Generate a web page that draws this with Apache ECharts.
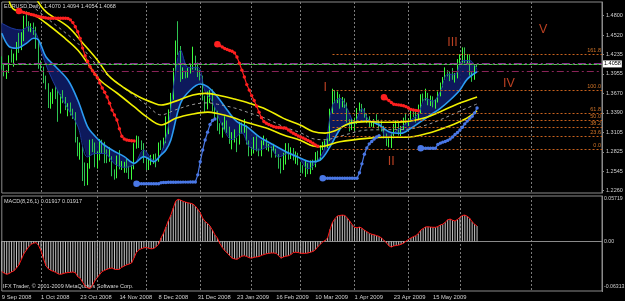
<!DOCTYPE html>
<html><head><meta charset="utf-8">
<script src="https://cdn.jsdelivr.net/npm/echarts@6/dist/echarts.min.js"></script>
<style>html,body{margin:0;padding:0;background:#000;}#c{width:625px;height:301px;}</style>
</head><body><div id="c"></div>
<script>
// ---------- tick labels ----------
const tickLabels = ['9 Sep 2008','1 Oct 2008','23 Oct 2008','14 Nov 2008','8 Dec 2008','31 Dec 2008','23 Jan 2009','16 Feb 2009','10 Mar 2009','1 Apr 2009','23 Apr 2009','15 May 2009','8 Jun 2009'];
const priceTicks = [1.4800,1.4520,1.4235,1.3955,1.3670,1.3390,1.3105,1.2825,1.2545,1.2260];
const macdTicks = [0.05719, 0.00, -0.06313];
const holidays = ['2008-12-25','2009-01-01'];
const futureGridIdx = [216];

// ---------- EURUSD daily OHLC ----------
const opens = [
1.4180,1.4037,1.3955,1.3990,1.4210,1.4180,1.4180,1.4390,1.4380,1.4480,
1.4780,1.4650,1.4620,1.4640,1.4610,1.4380,1.4090,1.4020,1.3850,1.3790,
1.3500,1.3600,1.3650,1.3640,1.3420,1.3620,1.3560,1.3450,1.3460,1.3410,
1.3380,1.3000,1.2830,1.2860,1.2620,1.2480,1.2620,1.2950,1.2920,1.2730,
1.2730,1.2970,1.2950,1.2740,1.2720,1.2750,1.2500,1.2480,1.2720,1.2590,
1.2630,1.2650,1.2550,1.2470,1.2580,1.2930,1.3000,1.2980,1.2910,1.2700,
1.2580,1.2720,1.2720,1.2750,1.2700,1.2930,1.2920,1.2960,1.3320,1.3400,
1.3620,1.4000,1.4400,1.4300,1.3900,1.3980,1.3950,1.4010,1.4050,1.4180,
1.4070,1.3970,1.3910,1.3620,1.3460,1.3650,1.3690,1.3450,1.3370,1.3180,
1.3150,1.3200,1.3260,1.3160,1.2980,1.2995,1.3000,1.2950,1.3190,1.3170,
1.3175,1.2950,1.2800,1.2810,1.2980,1.2840,1.2790,1.2940,1.3000,1.2870,
1.2880,1.2850,1.2850,1.2790,1.2650,1.2590,1.2800,1.2900,1.2740,1.2860,
1.2800,1.2800,1.2670,1.2580,1.2570,1.2620,1.2530,1.2670,1.2620,1.2800,
1.2750,1.2900,1.2930,1.2940,1.3000,1.3420,1.3650,1.3590,1.3650,1.3520,
1.3590,1.3520,1.3300,1.3150,1.3230,1.3250,1.3450,1.3480,1.3440,1.3350,
1.3320,1.3200,1.3220,1.3280,1.3250,1.3240,1.3150,1.3050,1.2930,1.2960,
1.3080,1.3210,1.3260,1.3130,1.3150,1.3280,1.3240,1.3280,1.3400,1.3370,
1.3320,1.3400,1.3650,1.3600,1.3660,1.3510,1.3610,1.3500,1.3550,1.3650,
1.3820,1.3890,1.4000,1.3970,1.3930,1.3900,1.3920,1.4150,1.4150,1.4300,
1.4150,1.4180,1.3950,1.3900,1.4070];
const closes = [
1.4037,1.3955,1.3990,1.4210,1.4180,1.4180,1.4390,1.4380,1.4480,1.4780,
1.4650,1.4620,1.4640,1.4610,1.4380,1.4090,1.4020,1.3850,1.3790,1.3500,
1.3600,1.3650,1.3640,1.3420,1.3620,1.3560,1.3450,1.3460,1.3410,1.3380,
1.3000,1.2830,1.2860,1.2620,1.2480,1.2620,1.2950,1.2920,1.2730,1.2730,
1.2970,1.2950,1.2740,1.2720,1.2750,1.2500,1.2480,1.2720,1.2590,1.2630,
1.2650,1.2550,1.2470,1.2580,1.2930,1.3000,1.2980,1.2910,1.2700,1.2580,
1.2720,1.2720,1.2750,1.2700,1.2930,1.2920,1.2960,1.3320,1.3400,1.3620,
1.4000,1.4400,1.4300,1.3900,1.3980,1.3950,1.4010,1.4050,1.4180,1.4070,
1.3970,1.3910,1.3620,1.3460,1.3650,1.3690,1.3450,1.3370,1.3180,1.3150,
1.3200,1.3260,1.3160,1.2980,1.2995,1.3000,1.2950,1.3190,1.3170,1.3175,
1.2950,1.2800,1.2810,1.2980,1.2840,1.2790,1.2940,1.3000,1.2870,1.2880,
1.2850,1.2850,1.2790,1.2650,1.2590,1.2800,1.2900,1.2740,1.2860,1.2800,
1.2800,1.2670,1.2580,1.2570,1.2620,1.2530,1.2670,1.2620,1.2800,1.2750,
1.2900,1.2930,1.2940,1.3000,1.3420,1.3650,1.3590,1.3650,1.3520,1.3590,
1.3520,1.3300,1.3150,1.3230,1.3250,1.3450,1.3480,1.3440,1.3350,1.3320,
1.3200,1.3220,1.3280,1.3250,1.3240,1.3150,1.3050,1.2930,1.2960,1.3080,
1.3210,1.3260,1.3130,1.3150,1.3280,1.3240,1.3280,1.3400,1.3370,1.3320,
1.3400,1.3650,1.3600,1.3660,1.3510,1.3610,1.3500,1.3550,1.3650,1.3820,
1.3890,1.4000,1.3970,1.3930,1.3900,1.3920,1.4150,1.4150,1.4300,1.4150,
1.4180,1.3950,1.3900,1.4070,1.4068];
const highs = [
1.4210,1.4090,1.4010,1.4225,1.4310,1.4250,1.4420,1.4550,1.4560,1.4800,
1.4865,1.4720,1.4690,1.4700,1.4640,1.4450,1.4150,1.4060,1.3930,1.3820,
1.3690,1.3740,1.3780,1.3720,1.3660,1.3720,1.3620,1.3530,1.3540,1.3450,
1.3400,1.3040,1.2960,1.2900,1.2670,1.2660,1.3000,1.3010,1.2960,1.2830,
1.3010,1.3000,1.2970,1.2860,1.2890,1.2760,1.2570,1.2770,1.2850,1.2690,
1.2680,1.2720,1.2620,1.2630,1.2950,1.3060,1.3050,1.2990,1.2950,1.2720,
1.2740,1.2780,1.2790,1.2800,1.2960,1.2990,1.3030,1.3340,1.3440,1.3680,
1.4040,1.4440,1.4720,1.4360,1.4050,1.4000,1.4040,1.4090,1.4350,1.4220,
1.4120,1.4010,1.3930,1.3640,1.3700,1.3720,1.3730,1.3480,1.3420,1.3240,
1.3250,1.3340,1.3280,1.3190,1.3110,1.3150,1.3030,1.3260,1.3250,1.3300,
1.3210,1.2990,1.2890,1.3040,1.3050,1.2870,1.2990,1.3060,1.3020,1.2940,
1.2900,1.2940,1.2870,1.2790,1.2730,1.2810,1.2950,1.2950,1.2890,1.2880,
1.2830,1.2810,1.2680,1.2630,1.2690,1.2660,1.2700,1.2710,1.2820,1.2840,
1.2920,1.2970,1.2990,1.3020,1.3450,1.3740,1.3720,1.3700,1.3660,1.3620,
1.3600,1.3540,1.3300,1.3300,1.3320,1.3460,1.3540,1.3520,1.3460,1.3380,
1.3340,1.3260,1.3300,1.3370,1.3290,1.3290,1.3200,1.3090,1.3020,1.3090,
1.3230,1.3280,1.3260,1.3200,1.3320,1.3390,1.3310,1.3420,1.3430,1.3410,
1.3510,1.3660,1.3670,1.3740,1.3680,1.3640,1.3630,1.3590,1.3700,1.3830,
1.3910,1.4050,1.4010,1.3990,1.4040,1.3970,1.4170,1.4240,1.4340,1.4340,
1.4240,1.4230,1.3980,1.4090,1.4094];
const lows = [
1.4017,1.3920,1.3882,1.3970,1.4120,1.4060,1.4150,1.4260,1.4300,1.4430,
1.4640,1.4570,1.4560,1.4520,1.4320,1.4030,1.4000,1.3820,1.3730,1.3460,
1.3450,1.3520,1.3590,1.3260,1.3380,1.3530,1.3430,1.3340,1.3350,1.3300,
1.2960,1.2760,1.2710,1.2400,1.2330,1.2340,1.2580,1.2820,1.2600,1.2580,
1.2700,1.2800,1.2660,1.2660,1.2680,1.2470,1.2420,1.2440,1.2570,1.2560,
1.2520,1.2520,1.2430,1.2420,1.2570,1.2870,1.2880,1.2850,1.2660,1.2560,
1.2560,1.2630,1.2650,1.2600,1.2680,1.2850,1.2880,1.2950,1.3080,1.3390,
1.3580,1.3990,1.4230,1.3840,1.3880,1.3890,1.3900,1.3960,1.4020,1.4010,
1.3910,1.3860,1.3570,1.3400,1.3440,1.3530,1.3410,1.3300,1.3130,1.3080,
1.3030,1.3140,1.3100,1.2940,1.2860,1.2960,1.2820,1.2930,1.3090,1.3100,
1.2930,1.2760,1.2770,1.2800,1.2830,1.2760,1.2760,1.2920,1.2850,1.2830,
1.2740,1.2830,1.2740,1.2580,1.2510,1.2560,1.2640,1.2710,1.2720,1.2700,
1.2650,1.2630,1.2520,1.2510,1.2460,1.2500,1.2500,1.2560,1.2600,1.2700,
1.2700,1.2850,1.2860,1.2880,1.2980,1.3380,1.3530,1.3530,1.3450,1.3470,
1.3460,1.3250,1.3120,1.3140,1.3130,1.3230,1.3410,1.3400,1.3320,1.3240,
1.3170,1.3190,1.3180,1.3220,1.3160,1.3120,1.3020,1.2910,1.2890,1.2880,
1.3020,1.3160,1.3060,1.3050,1.3140,1.3220,1.3200,1.3260,1.3330,1.3250,
1.3300,1.3380,1.3540,1.3570,1.3500,1.3490,1.3470,1.3450,1.3540,1.3630,
1.3760,1.3870,1.3920,1.3850,1.3870,1.3830,1.3890,1.4100,1.4120,1.4110,
1.4090,1.3930,1.3840,1.3870,1.4054];

// ---------- MACD(8,26,1) ----------
const macd = [
-0.0384,-0.0405,-0.0420,-0.0410,-0.0390,-0.0375,-0.0340,-0.0300,-0.0230,-0.0160,
-0.0115,-0.0070,-0.0040,-0.0025,-0.0018,-0.0055,-0.0120,-0.0220,-0.0310,-0.0350,
-0.0370,-0.0382,-0.0395,-0.0415,-0.0420,-0.0412,-0.0402,-0.0398,-0.0395,-0.0390,
-0.0400,-0.0450,-0.0470,-0.0520,-0.0570,-0.0590,-0.0600,-0.0560,-0.0500,-0.0460,
-0.0420,-0.0385,-0.0370,-0.0355,-0.0345,-0.0340,-0.0355,-0.0360,-0.0355,-0.0330,
-0.0315,-0.0300,-0.0290,-0.0275,-0.0210,-0.0140,-0.0110,-0.0095,-0.0085,-0.0080,
-0.0090,-0.0097,-0.0092,-0.0070,-0.0040,0.0040,0.0100,0.0180,0.0260,0.0330,
0.0420,0.0510,0.0530,0.0520,0.0505,0.0495,0.0485,0.0480,0.0470,0.0445,
0.0405,0.0360,0.0290,0.0250,0.0225,0.0190,0.0140,0.0080,0.0040,-0.0030,
-0.0080,-0.0120,-0.0150,-0.0185,-0.0215,-0.0225,-0.0230,-0.0210,-0.0190,-0.0185,
-0.0195,-0.0210,-0.0215,-0.0205,-0.0200,-0.0195,-0.0180,-0.0170,-0.0160,-0.0155,
-0.0150,-0.0150,-0.0155,-0.0185,-0.0215,-0.0200,-0.0190,-0.0185,-0.0170,-0.0145,
-0.0140,-0.0145,-0.0152,-0.0155,-0.0154,-0.0150,-0.0140,-0.0130,-0.0110,-0.0070,
-0.0040,-0.0010,0.0010,0.0040,0.0150,0.0240,0.0285,0.0320,0.0325,0.0330,
0.0325,0.0295,0.0255,0.0210,0.0175,0.0170,0.0178,0.0165,0.0140,0.0120,
0.0100,0.0088,0.0080,0.0070,0.0060,0.0040,0.0010,-0.0020,-0.0060,-0.0075,
-0.0060,-0.0055,-0.0050,-0.0040,-0.0025,0.0000,0.0022,0.0040,0.0057,0.0070,
0.0095,0.0140,0.0160,0.0180,0.0182,0.0178,0.0176,0.0175,0.0185,0.0205,
0.0215,0.0240,0.0270,0.0280,0.0265,0.0255,0.0275,0.0300,0.0325,0.0330,
0.0315,0.0290,0.0245,0.0215,0.01917];

// ---------- indicator lines, read at sample bars [barIndex, price] ----------
const blueMA = [[0,1.4545],[3,1.4350],[6,1.4327],[10,1.4399],[13,1.4472],[15,1.4447],[18,1.4205],[22,1.4060],[27,1.3867],[31,1.3576],[35,1.3189],[37,1.3093],[41,1.2948],[45,1.2851],[50,1.2754],[54,1.2658],[58,1.2754],[62,1.2681],[65,1.2778],[67,1.2850],[69,1.2996],[73,1.3533],[77,1.3722],[81,1.3809],[84,1.3770],[88,1.3624],[92,1.3431],[96,1.3262],[100,1.3189],[105,1.3044],[111,1.2923],[116,1.2826],[122,1.2730],[126,1.2681],[130,1.2706],[134,1.2899],[137,1.3093],[139,1.3189],[143,1.3238],[149,1.3276],[154,1.3214],[158,1.3116],[163,1.3093],[167,1.3166],[171,1.3262],[175,1.3359],[179,1.3456],[183,1.3576],[187,1.3722],[190,1.3880],[194,1.3987]];
const fastEdge = [[0,1.4690],[4,1.4620],[8,1.4593],[11,1.4640],[14,1.4545],[16,1.4300],[19,1.4000],[23,1.3700],[27,1.3450],[31,1.3200],[35,1.2750],[38,1.2800],[42,1.2800],[46,1.2650],[50,1.2600],[54,1.2640],[58,1.2850],[62,1.2700],[65,1.2800],[68,1.3200],[71,1.4000],[73,1.4300],[76,1.4050],[80,1.4050],[83,1.3700],[86,1.3550],[90,1.3200],[94,1.3000],[98,1.3100],[101,1.2900],[105,1.2850],[109,1.2900],[113,1.2750],[117,1.2800],[121,1.2750],[125,1.2580],[129,1.2700],[132,1.2900],[135,1.3500],[138,1.3600],[141,1.3450],[144,1.3250],[147,1.3450],[150,1.3280],[154,1.3250],[157,1.3020],[160,1.3100],[163,1.3180],[166,1.3260],[170,1.3380],[173,1.3600],[176,1.3560],[179,1.3700],[182,1.3950],[185,1.3950],[188,1.4150],[191,1.4150],[194,1.4020]];
const envUpper = [[14,1.5050],[18,1.4858],[27,1.4640],[33,1.4404],[39,1.4157],[44,1.3915],[50,1.3751],[56,1.3624],[62,1.3533],[65,1.3504],[71,1.3560],[78,1.3649],[83,1.3673],[88,1.3649],[95,1.3590],[101,1.3530],[108,1.3440],[115,1.3310],[122,1.3210],[127,1.3120],[132,1.3095],[136,1.3130],[142,1.3238],[149,1.3262],[157,1.3253],[165,1.3262],[172,1.3311],[179,1.3407],[186,1.3518],[194,1.3620]];
const envLower = [[3,1.5010],[5,1.4890],[13,1.4810],[18,1.4694],[25,1.4495],[31,1.4302],[36,1.4060],[40,1.3867],[47,1.3678],[54,1.3479],[59,1.3334],[65,1.3214],[71,1.3311],[78,1.3373],[84,1.3400],[88,1.3380],[94,1.3326],[100,1.3250],[108,1.3170],[115,1.3070],[122,1.2990],[127,1.2909],[130,1.2900],[138,1.2971],[149,1.3020],[157,1.3035],[165,1.3035],[174,1.3093],[182,1.3189],[189,1.3297],[194,1.3420]];
const envMid = [[10,1.5010],[18,1.4776],[25,1.4580],[31,1.4400],[36,1.4200],[40,1.4030],[47,1.3830],[54,1.3640],[59,1.3510],[65,1.3360],[71,1.3435],[78,1.3511],[84,1.3535],[88,1.3515],[95,1.3460],[101,1.3390],[108,1.3305],[115,1.3190],[122,1.3100],[127,1.3015],[132,1.3000],[138,1.3050],[149,1.3140],[157,1.3145],[165,1.3150],[172,1.3200],[179,1.3290],[186,1.3400],[194,1.3520]];

// ---------- trailing-stop dots: [startBar, values...] ----------
const redStops = [
 [7, 1.4868,1.4858,1.4848,1.4838,1.4828,1.4818,1.4810,1.4800,1.4790,1.4782,1.4775,1.4768,1.4763,1.4762,1.4762,1.4762,1.4762,1.4762,1.4762,1.4762,1.4760,1.4740,1.4700,1.4640,1.4568,1.4470,1.4330,1.4220,1.4140,1.4060,1.4000,1.3950,1.3900,1.3825,1.3750,1.3690,1.3620,1.3530,1.3430,1.3360,1.3286,1.3160,1.3050,1.3010,1.2996,1.2990,1.2985,1.2981],
 [88, 1.4385,1.4365,1.4345,1.4325,1.4310,1.4295,1.4285,1.4260,1.4200,1.4110,1.4010,1.3910,1.3800,1.3720,1.3640,1.3570,1.3490,1.3400,1.3320,1.3265,1.3240,1.3220,1.3205,1.3190,1.3180,1.3178,1.3175,1.3170,1.3166,1.3140,1.3115,1.3093,1.3075,1.3055,1.3040,1.3025,1.3008,1.2990,1.2970,1.2948,1.2925,1.2905],
 [156, 1.3616,1.3595,1.3570,1.3540,1.3515,1.3510,1.3505,1.3500,1.3492,1.3480,1.3460,1.3440,1.3431,1.3425,1.3421]
];
const blueStops = [
 [55, 1.2360,1.2360,1.2360,1.2360,1.2360,1.2360,1.2360,1.2360,1.2360,1.2360,1.2376,1.2380,1.2380,1.2382,1.2382,1.2383,1.2383,1.2384,1.2384,1.2385,1.2385,1.2385,1.2386,1.2386,1.2386,1.2490,1.2680,1.2850,1.2996,1.3110,1.3220,1.3280,1.3300],
 [131, 1.2440,1.2440,1.2440,1.2440,1.2440,1.2440,1.2440,1.2440,1.2440,1.2440,1.2440,1.2440,1.2440,1.2440,1.2440,1.2520,1.2650,1.2790,1.2880,1.2940,1.2975,1.3010,1.3040,1.3060],
 [171, 1.2876,1.2876,1.2876,1.2876,1.2876,1.2876,1.2876,1.2930,1.2950,1.2965,1.2975,1.2990,1.3010,1.3040,1.3075,1.3105,1.3140,1.3180,1.3230,1.3270,1.3310,1.3340,1.3390,1.3460]
];

// ---------- levels ----------
const fibNames = ['161.8','100.0','61.8','50.0','38.2','23.6','0.0'];
const fibPrices = [1.4244,1.3718,1.3383,1.3286,1.3180,1.3050,1.2855];
const fibStartBar = 135;
const purpleUpper = 1.4143, purpleLower = 1.3969, greenLevel = 1.4063, bidLevel = 1.4058;

// ---------- Elliott wave labels ----------
const waveNames = ['I','II','III','IV','V'];
const waveBars = [132,159,184,207,221];
const wavePrices = [1.3751,1.2684,1.4404,1.3809,1.4593];

// ---------- build categories ----------
const MON = ['Jan','Feb','Mar','Apr','May','Jun','Jul','Aug','Sep','Oct','Nov','Dec'];
const NCAT = 246, NDATA = closes.length;
const cats = []; const monthStart = new Set();
let d = new Date(Date.UTC(2008,8,9)); let prevM = -1;
while (cats.length < NCAT) {
  const wd = d.getUTCDay(); const iso = d.toISOString().slice(0,10);
  if (wd !== 0 && wd !== 6 && holidays.indexOf(iso) < 0) {
    if (prevM !== -1 && d.getUTCMonth() !== prevM && cats.length < NDATA) monthStart.add(cats.length);
    prevM = d.getUTCMonth();
    cats.push(d.getUTCDate() + ' ' + MON[d.getUTCMonth()] + ' ' + d.getUTCFullYear());
  }
  d = new Date(d.getTime() + 86400000);
}
futureGridIdx.forEach(i => monthStart.add(i));

const ohlc = opens.map((o,i) => [o, closes[i], lows[i], highs[i]]);
function expand(segs) {
  const arr = new Array(NDATA).fill(null);
  segs.forEach(s => { for (let k = 1; k < s.length; k++) arr[s[0] + k - 1] = s[k]; });
  return arr;
}
const redArr = expand(redStops), blueArr = expand(blueStops);

const FONT = 'Liberation Sans';
const axisTxt = '#d0d0d0', gridCol = '#8a8a8a';

function dotSeries(arr, color) {
  return {
    type: 'line', xAxisIndex: 0, yAxisIndex: 0, data: arr, connectNulls: false,
    showSymbol: true, showAllSymbol: true, symbol: 'circle',
    symbolSize: (v, p) => (p.dataIndex === 0 || arr[p.dataIndex - 1] == null) ? 6.5 : 3.4,
    itemStyle: { color: color }, lineStyle: { color: color, width: 1.2 }, z: 5, silent: true
  };
}
function smoothLine(data, color, width, type) {
  return { type: 'line', xAxisIndex: 0, yAxisIndex: 0, data: data, smooth: 0.35, symbol: 'none',
    lineStyle: { color: color, width: width, type: type || 'solid' }, z: 4, silent: true };
}

const fibLines = fibPrices.map((p, k) => [
  { coord: [cats[fibStartBar], p], lineStyle: { color: '#c8621e', width: 1, type: [2, 2] },
    label: { show: true, formatter: fibNames[k], position: 'insideEndTop', color: '#d07428', fontSize: 5.5, fontFamily: FONT, distance: 1 } },
  { coord: [cats[NCAT - 1], p] }
]);

const option = {
  backgroundColor: '#000000',
  animation: false,
  textStyle: { fontFamily: FONT },
  grid: [
    { left: 1.8, right: 23, top: 2, height: 191, show: true, borderColor: gridCol, borderWidth: 1, outerBoundsMode: 'none', containLabel: false },
    { left: 1.8, right: 23, top: 196, height: 95, show: true, borderColor: gridCol, borderWidth: 1, outerBoundsMode: 'none', containLabel: false }
  ],
  xAxis: [
    { gridIndex: 0, type: 'category', data: cats, boundaryGap: false,
      axisLine: { show: false }, axisTick: { show: false }, axisLabel: { show: false },
      splitLine: { show: true, interval: (i) => monthStart.has(i), lineStyle: { color: '#7a7a7a', type: [2, 2], width: 1 } } },
    { gridIndex: 1, type: 'category', data: cats, boundaryGap: false,
      axisLine: { show: true, lineStyle: { color: gridCol } }, axisTick: { show: false },
      axisLabel: { show: true, interval: (i, v) => tickLabels.indexOf(v) >= 0, align: 'left', color: axisTxt,
        fontSize: 5.8, fontFamily: FONT, margin: 3, showMaxLabel: false, hideOverlap: false },
      splitLine: { show: true, interval: (i) => monthStart.has(i), lineStyle: { color: '#7a7a7a', type: [2, 2], width: 1 } } }
  ],
  yAxis: [
    { gridIndex: 0, type: 'value', position: 'right', min: 1.22267, max: 1.49988, scale: true,
      splitLine: { show: false }, axisLine: { show: true, lineStyle: { color: gridCol } },
      axisTick: { show: true, customValues: priceTicks, length: 2, lineStyle: { color: gridCol } },
      axisLabel: { customValues: priceTicks, formatter: v => v.toFixed(4), color: axisTxt, fontSize: 5.5, fontFamily: FONT, margin: 4 } },
    { gridIndex: 1, type: 'value', position: 'right', min: -0.06313, max: 0.05719, scale: true,
      splitLine: { show: false }, axisLine: { show: true, lineStyle: { color: gridCol } },
      axisTick: { show: true, customValues: macdTicks, length: 1, lineStyle: { color: gridCol } },
      axisLabel: { customValues: macdTicks, color: axisTxt, fontSize: 5.2, fontFamily: FONT, margin: 2,
        formatter: v => v === 0 ? '0.00' : (v > 0 ? '{t|' + v.toFixed(5) + '}' : '{b|' + v.toFixed(5) + '}'),
        rich: { t: { padding: [6, 0, 0, 0], fontSize: 5.2, color: axisTxt }, b: { padding: [0, 0, 8, 0], fontSize: 5.2, color: axisTxt } } } }
  ],
  series: [
    { type: 'custom', xAxisIndex: 0, yAxisIndex: 0, data: [[0, fastEdge[0][1]]], z: 1, silent: true, clip: true,
      renderItem: (params, api) => {
        const pts = fastEdge.map(p => api.coord(p));
        for (let k = blueMA.length - 1; k >= 0; k--) pts.push(api.coord(blueMA[k]));
        return { type: 'polygon', shape: { points: pts, smooth: 0.2 }, style: { fill: '#0e1c66', opacity: 0.9 } };
      } },
    { type: 'candlestick', xAxisIndex: 0, yAxisIndex: 0, data: ohlc, barWidth: 1.2, z: 2, silent: true,
      itemStyle: { color: '#22e022', color0: '#1f9a3f', borderColor: '#3cff3c', borderColor0: '#2ec452', borderWidth: 1 } },
    smoothLine(fastEdge, '#1d3a9e', 1),
    smoothLine(blueMA, '#2b9cf2', 1.6),
    smoothLine(envMid, '#9a9a9a', 1, [3, 3]),
    smoothLine(envUpper, '#f0f000', 1.6),
    smoothLine(envLower, '#f0f000', 1.6),
    dotSeries(redArr, '#ff2020'),
    dotSeries(blueArr, '#4a78e6'),
    { type: 'line', xAxisIndex: 0, yAxisIndex: 0, data: [], z: 3, silent: true,
      markLine: { silent: true, symbol: ['none', 'none'], animation: false, label: { show: false },
        data: [
          { yAxis: purpleUpper, lineStyle: { color: '#86318a', width: 2, type: [8, 3, 2, 3] }, label: { show: false } },
          { yAxis: purpleLower, lineStyle: { color: '#8a2458', width: 1, type: [7, 3, 2, 3] }, label: { show: false } },
          { yAxis: bidLevel, lineStyle: { color: '#8c8c8c', width: 1, type: 'solid' },
            label: { show: true, position: 'end', formatter: '1.4058', backgroundColor: '#ffffff', color: '#000000', fontSize: 5.5, fontFamily: FONT, padding: [1, 1, 0, 1], distance: 1 } },
          { yAxis: greenLevel, lineStyle: { color: '#00c800', width: 1, type: [2, 3] }, label: { show: false } }
        ].concat(fibLines) } },
    { type: 'scatter', xAxisIndex: 0, yAxisIndex: 0, symbolSize: 0, z: 6, silent: true,
      data: waveNames.map((n, k) => ({ name: n, value: [waveBars[k], wavePrices[k]] })),
      label: { show: true, position: 'inside', formatter: '{b}', color: '#e8502a', fontSize: 12.5, fontFamily: FONT } },
    { type: 'bar', xAxisIndex: 1, yAxisIndex: 1, data: macd, barWidth: 1, z: 2, silent: true, itemStyle: { color: '#c4c4c4' } },
    { type: 'line', xAxisIndex: 1, yAxisIndex: 1, data: macd, symbol: 'none', z: 3, silent: true, lineStyle: { color: '#ff1414', width: 1 } }
  ],
  graphic: [
    { type: 'text', left: 4, top: 3, silent: true, style: { text: 'EURUSD,Daily  1.4070 1.4094 1.4054 1.4068', fill: '#d8d8d8', fontSize: 5.5, fontFamily: FONT } },
    { type: 'text', left: 4, top: 198, silent: true, style: { text: 'MACD(8,26,1) 0.01917 0.01917', fill: '#d8d8d8', fontSize: 5.5, fontFamily: FONT } },
    { type: 'text', left: 3, top: 283, silent: true, style: { text: 'IFX Trader, \u00a9 2001-2009 MetaQuotes Software Corp.', fill: '#d8d8d8', fontSize: 5.5, fontFamily: FONT } }
  ]
};
const chart = echarts.init(document.getElementById('c'), null, { renderer: 'canvas' });
chart.setOption(option);
</script></body></html>
